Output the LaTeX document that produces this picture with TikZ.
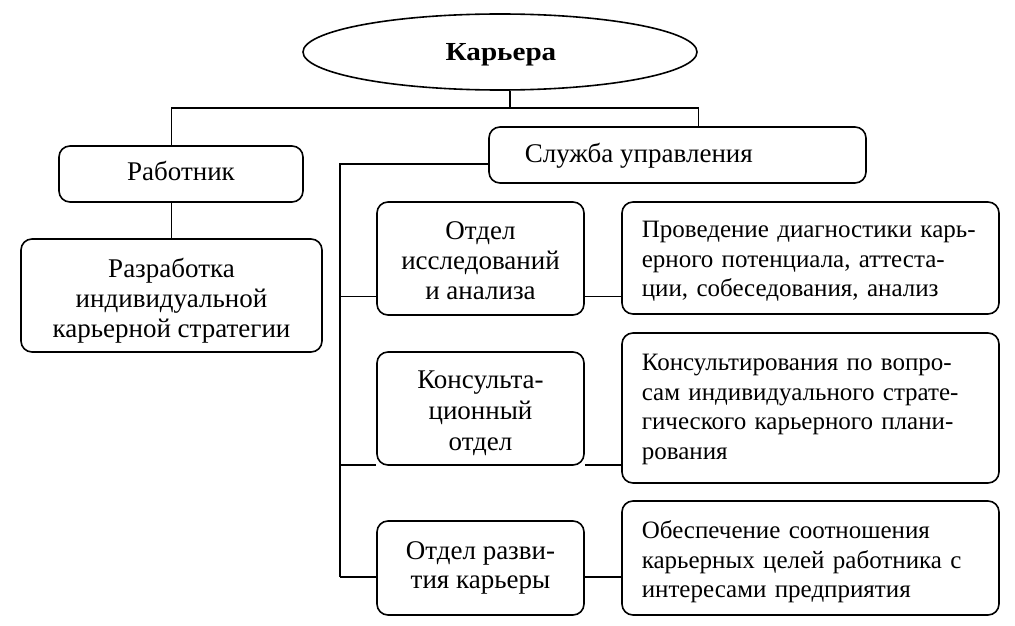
\documentclass[tikz,border=0pt]{standalone}
\usepackage{fontspec}
\setmainfont{Liberation Serif}
\usetikzlibrary{shapes.geometric}
\begin{document}
\begin{tikzpicture}[x=1pt,y=-1pt,line width=1.6pt,
  box/.style={draw,rounded corners=11pt,inner sep=0pt},
  big/.style={font=\fontsize{27}{30}\selectfont,inner sep=0pt,align=center},
  mid/.style={font=\fontsize{27}{#1}\selectfont,inner sep=0pt,align=center,anchor=north},
  small/.style={font=\fontsize{25}{29.5}\selectfont,inner sep=0pt,align=left,anchor=north west,text width=352pt}]
\useasboundingbox (0,0) rectangle (1015,626);
% shapes
\node[draw,ellipse,minimum width=394pt,minimum height=76pt,inner sep=0pt] (car) at (500,52) {};
\node[box,minimum width=244pt,minimum height=56pt] (rab) at (181,174) {};
\node[box,minimum width=301pt,minimum height=113pt] (raz) at (171.5,295.5) {};
\node[box,minimum width=377pt,minimum height=56pt] (sl) at (677.5,155) {};
\node[box,minimum width=207pt,minimum height=113pt] (o1) at (480.5,258.5) {};
\node[box,minimum width=207pt,minimum height=113pt] (o2) at (480.5,408.5) {};
\node[box,minimum width=207pt,minimum height=94pt] (o3) at (480.5,568) {};
\node[box,minimum width=377pt,minimum height=112pt] (r1) at (810.5,258) {};
\node[box,minimum width=377pt,minimum height=150pt] (r2) at (810.5,408) {};
\node[box,minimum width=377pt,minimum height=114pt] (r3) at (810.5,558) {};
% texts
\node[anchor=base,inner sep=0pt,font=\fontsize{26}{30}\selectfont\bfseries] (cart) at (501,60) {\scalebox{1.12}[1]{Карьера}};
\node[big,anchor=base] (rabt) at (181,180) {Работник};
\node[big,anchor=base west] (slt) at (524,162) {Служба управления};
\node[mid=30,anchor=north] (razt) at (171.5,256) {\strut Разработка\\индивидуальной\\карьерной стратегии};
\node[mid=30] (o1t) at (480.5,218) {\strut Отдел\\исследований\\и анализа};
\node[mid=31] (o2t) at (480.5,366) {\strut Консульта-\\ционный\\отдел};
\node[mid=29] (o3t) at (480.5,538) {\strut Отдел разви-\\тия карьеры};
\node[small] (r1t) at (641,216.5) {\strut Проведение диагностики карь-\\ерного потенциала, аттеста-\\ции, собеседования, анализ};
\node[small] (r2t) at (641,349.5) {\strut Консультирования по вопро-\\сам индивидуального страте-\\гического карьерного плани-\\рования};
\node[small] (r3t) at (641,517.5) {\strut Обеспечение соотношения\\карьерных целей работника с\\интересами предприятия};
% junctions
\coordinate (j0) at (510,108);
\coordinate (jl) at (340,164);
\coordinate (j1) at (340,296.5);
\coordinate (j2) at (340,465);
\coordinate (j3) at (340,577);
% connectors
\draw (j0 |- car.south) -- (j0);
\draw (j0) -| (raz.north |- rab.north);
\draw (j0) -| ([xshift=21pt]sl.north);
\draw (raz.north |- rab.south) -- (raz.north);
\draw (sl.west |- jl) -- (jl) -- (j3);
\draw (j1) -- (o1.west |- j1);
\draw (o1.east |- j1) -- (r1.west |- j1);
\draw (j2) -- (o2.west |- j2);
\draw (o2.east |- j2) -- (r2.west |- j2);
\draw (j3) -- (o3.west |- j3);
\draw (o3.east |- j3) -- (r3.west |- j3);
\end{tikzpicture}
\end{document}
